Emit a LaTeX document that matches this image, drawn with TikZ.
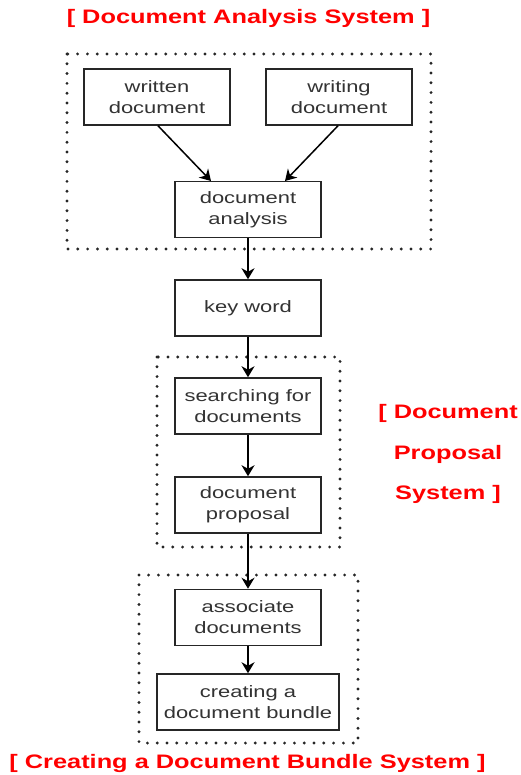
\documentclass[tikz,border=0pt]{standalone}
\usepackage{fontspec}
\usetikzlibrary{arrows.meta}
\newfontfamily\boxfont[FakeStretch=1.33]{Liberation Sans}
\newfontfamily\labelfont[FakeStretch=1.3]{Liberation Sans Bold}
\definecolor{inkgrey}{HTML}{333333}
\definecolor{labelred}{HTML}{FF0000}
\tikzset{
  stepbox/.style={draw=black!85, line width=1.5pt, fill=white, minimum width=146pt,
    minimum height=56pt, inner sep=0pt, align=center, text=inkgrey,
    font=\boxfont\fontsize{16.5pt}{21pt}\selectfont},
  groupframe/.style={draw=black!85, line width=3.2pt, line cap=round,
    dash pattern=on 0pt off 9.8pt},
  flow/.style={draw=black, line width=1.5pt,
    -{Stealth[length=11pt, width=13pt, inset=3.5pt]}},
  syslabel/.style={text=labelred, inner sep=0pt, align=center,
    font=\labelfont\fontsize{19.5pt}{40.5pt}\selectfont}
}
\begin{document}
\begin{tikzpicture}[x=1pt, y=-1pt]
  \useasboundingbox (0,0) rectangle (520,775);

  % system groupings
  \draw[groupframe] (67,54) rectangle (431,249);
  \draw[groupframe] (157,357) rectangle (340,547);
  \draw[groupframe] (139,575) rectangle (358,743);

  % process steps
  \node[stepbox] (written)   at (157,97)  {written\\document};
  \node[stepbox] (writing)   at (339,97)  {writing\\document};
  \node[stepbox] (analysis)  at (248,209.5) {document\\analysis};
  \node[stepbox] (keyword)   at (248,308) {key word};
  \node[stepbox] (search)    at (248,406) {searching for\\documents};
  \node[stepbox] (proposal)  at (248,505) {document\\proposal};
  \node[stepbox] (associate) at (248,617.5) {associate\\documents};
  \node[stepbox, minimum width=182pt] (bundle) at (248,702) {creating a\\document bundle};

  % connectors
  \draw[flow] (written.south -| 158,0) -- (211,181);
  \draw[flow] (writing.south -| 338,0) -- (285,181);
  \draw[flow] (analysis) -- (keyword);
  \draw[flow] (keyword) -- (search);
  \draw[flow] (search) -- (proposal);
  \draw[flow] (proposal) -- (associate);
  \draw[flow] (associate) -- (bundle);

  % system labels
  \node[syslabel] (titleA) at (248.5,18) {[ Document Analysis System ]};
  \node[syslabel] (titleB) at (448,454) {[ Document\\Proposal\\System ]};
  \node[syslabel] (titleC) at (247.5,763) {[ Creating a Document Bundle System ]};
\end{tikzpicture}
\end{document}
